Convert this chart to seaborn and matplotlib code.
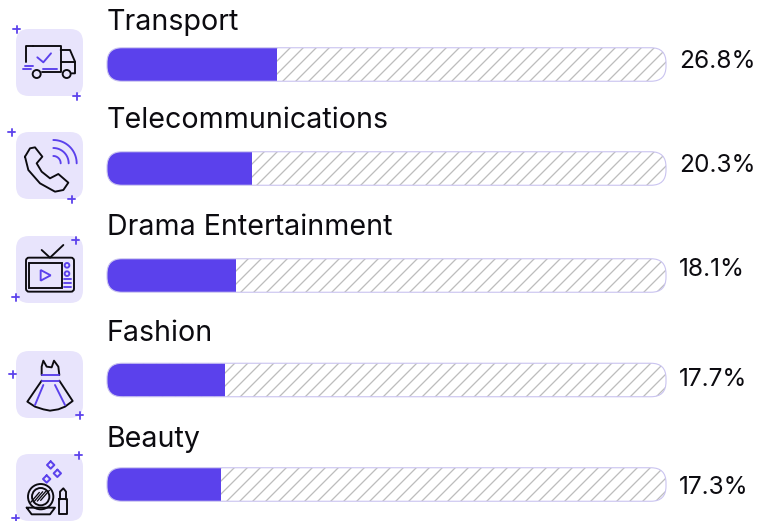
import numpy as np
import pandas as pd
import seaborn as sns
import matplotlib.pyplot as plt
from matplotlib.patches import FancyBboxPatch, Circle, Polygon

sns.set_theme(style="white")
plt.rcParams["font.family"] = ["Inter", "DejaVu Sans"]
plt.rcParams["hatch.linewidth"] = 0.6

W, H, DPI = 758, 521, 156
PT = 72 / DPI

# chart values
categories = ["Transport", "Telecommunications", "Drama Entertainment", "Fashion", "Beauty"]
share_labels = ["26.8%", "20.3%", "18.1%", "17.7%", "17.3%"]
# filled part of each track (not proportional to the label)
fill_pct = [30.4, 25.9, 23.1, 21.1, 20.4]
track_pct = [100, 100, 100, 100, 100]
row_y = [64.5, 168.5, 275.5, 380, 484.5]

PURPLE = "#5B41EC"
TILE = "#E8E4FC"
BLACK = "#0C0B10"

df = pd.DataFrame({"category": categories, "fill": fill_pct, "track": track_pct, "y": row_y})

fig = plt.figure(figsize=(W / DPI, H / DPI), dpi=DPI)
ax = fig.add_axes([107 / W, 0, 559 / W, 1])
deco = fig.add_axes([0, 0, 1, 1], facecolor="none")
deco.set_xlim(0, W)
deco.set_ylim(H, 0)
deco.axis("off")

bar_w = 33.5 / 104
sns.barplot(data=df, x="track", y="y", orient="y", native_scale=True, width=bar_w, ax=ax,
            color="white", edgecolor="#BDBDBD", hatch="////", linewidth=0, saturation=1)
n_track = len(ax.patches)
sns.barplot(data=df, x="fill", y="y", orient="y", native_scale=True, width=bar_w, ax=ax,
            color=PURPLE, linewidth=0, saturation=1)
ax.set_xlim(0, 100)
ax.set_ylim(H, 0)
ax.axis("off")

# round the bars with a clip shape
R = 15
for i, y in enumerate(row_y):
    box = FancyBboxPatch((107 + R, y - 16.75 + R), 559 - 2 * R, 33.5 - 2 * R,
                         boxstyle=f"round,pad={R},rounding_size={R}", fc="none", ec="#C9C3F0", lw=1.1 * PT)
    deco.add_patch(box)
    ax.patches[i].set_clip_path(box)
    ax.patches[n_track + i].set_clip_path(box)

for y, name, lab, base, mid in zip(row_y, categories, share_labels,
                                   [30, 128, 235, 341, 447], [61, 165, 269, 379, 488]):
    deco.text(107, base, name, fontsize=28.6 * PT, color=BLACK, va="baseline", ha="left")
    deco.text(679, mid, lab, fontsize=24.5 * PT, color=BLACK, va="center", ha="left")

# icon tiles
tiles_y = [29, 132, 236, 351, 454]
for ty in tiles_y:
    deco.add_patch(FancyBboxPatch((16 + 13, ty + 13), 41, 41, boxstyle="round,pad=13",
                                  fc=TILE, ec="none"))

plus_xy = [(17, 29), (77, 96), (12, 132), (72, 199), (76, 240), (16, 297),
           (13, 374), (80, 415), (79, 455), (16, 518)]
for px, py in plus_xy:
    deco.plot([px - 3.5, px + 3.5], [py, py], color=PURPLE, lw=2 * PT, alpha=.9)
    deco.plot([px, px], [py - 3.5, py + 3.5], color=PURPLE, lw=2 * PT, alpha=.9)


# icon strokes, coordinates taken from 3x crops
def ln(points, color=BLACK, oy=0, lw=1.9):
    p = np.array(points, dtype=float) / 3
    deco.plot(p[:, 0], p[:, 1] + oy, color=color, lw=lw * PT, solid_capstyle="round", solid_joinstyle="round")


def circ(x, y, r, color=BLACK, oy=0, lw=1.9):
    deco.add_patch(Circle((x / 3, y / 3 + oy), r / 3, fc="none", ec=color, lw=lw * PT))


# truck
ln([(100, 137), (182, 137), (182, 215), (125, 215)])
ln([(78, 185), (78, 137), (100, 137)])
ln([(182, 150), (210, 150), (225, 185), (225, 220), (215, 220)])
ln([(182, 185), (225, 185)])
circ(110, 222, 12)
circ(200, 222, 12)
ln([(112, 172), (130, 187), (153, 160)], PURPLE)
ln([(68, 208), (92, 208)], PURPLE)
ln([(130, 208), (172, 208)], PURPLE)
ln([(75, 197), (100, 197)], PURPLE)

# phone
ln([(75, 470), (90, 445), (105, 442), (127, 470), (110, 490), (125, 515), (150, 535),
    (175, 522), (205, 548), (190, 570), (165, 575), (120, 550), (85, 510), (75, 470)])
for r in (22, 46, 70):
    a = np.radians(np.linspace(0, 90, 20))
    ln(np.c_[160 + r * np.cos(a), 490 - r * np.sin(a)], PURPLE)

# tv
oy = 210
deco.add_patch(FancyBboxPatch((78 / 3 + 3, 143 / 3 + oy + 3), 144 / 3 - 6, 102 / 3 - 6,
                              boxstyle="round,pad=3", fc="none", ec=BLACK, lw=1.9 * PT))
deco.add_patch(plt.Rectangle((88 / 3, 158 / 3 + oy), 97 / 3, 77 / 3, fc="none", ec=BLACK, lw=1.9 * PT))
deco.add_patch(Polygon(np.array([(122, 180 + 630), (152, 196 + 630), (122, 212 + 630)]) / 3,
                       fc="none", ec=PURPLE, lw=1.9 * PT))
ln([(125, 120), (150, 143), (190, 105)], oy=oy)
circ(201, 166, 7, PURPLE, oy)
circ(201, 191, 7, PURPLE, oy)
for yy in (208, 220, 232):
    ln([(192, yy), (212, yy)], PURPLE, oy)

# dress
ln([(125, 495), (125, 470), (130, 452), (140, 470), (155, 472), (162, 452), (175, 470), (178, 495)], oy=oy)
ln([(125, 512), (82, 575), (105, 590), (130, 598), (150, 602), (175, 598), (195, 590), (218, 573), (178, 512)], oy=oy)
ln([(125, 495), (178, 495)], PURPLE, oy)
ln([(125, 512), (178, 512)], PURPLE, oy)
ln([(130, 525), (105, 585)], PURPLE, oy)
ln([(165, 525), (195, 585)], PURPLE, oy)

# beauty
circ(122, 860, 38, oy=oy)
circ(122, 860, 26, oy=oy)
for d in (-16, -6, 4, 14):
    ln([(122 + d - 14, 860 + 14 - d * 0.2), (122 + d + 12, 860 - 16 - d * 0.2)], oy=oy, lw=1.3)
ln([(80, 893), (165, 893), (150, 913), (95, 913), (80, 893)], oy=oy)
ln([(177, 868), (200, 868), (200, 913), (177, 913), (177, 868)], oy=oy)
ln([(180, 868), (180, 845), (190, 835), (198, 845), (198, 868)], oy=oy)
for sx, sy in [(152, 765), (172, 790), (140, 807)]:
    ln([(sx, sy - 11), (sx + 11, sy), (sx, sy + 11), (sx - 11, sy), (sx, sy - 11)], PURPLE, oy, lw=2)

fig.savefig("out.png", dpi=DPI, facecolor="white")
